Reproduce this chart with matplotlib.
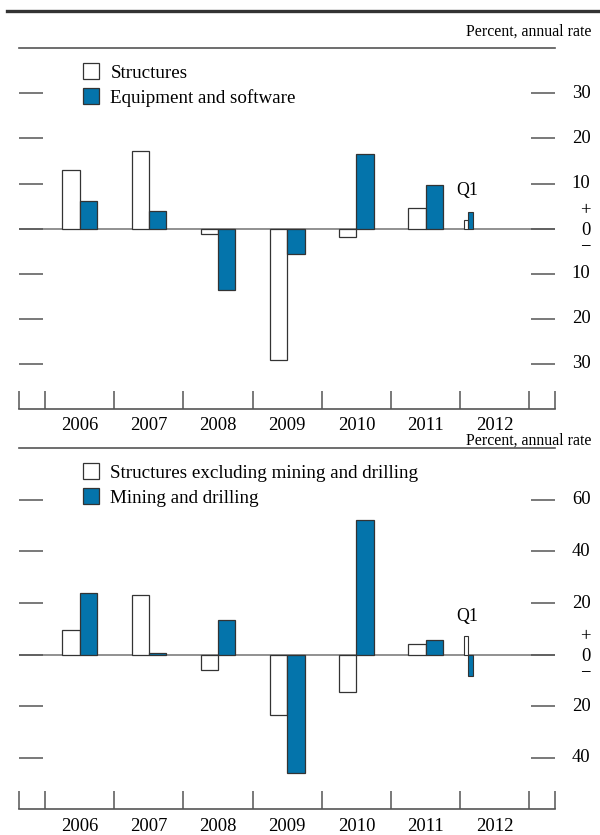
import matplotlib
matplotlib.use('Agg')
import matplotlib.pyplot as plt
from matplotlib.patches import Patch
from matplotlib.lines import Line2D

# ---------------- data ----------------
years = ['2006', '2007', '2008', '2009', '2010', '2011', '2012']
annual_years = ['2006', '2007', '2008', '2009', '2010', '2011']

structures = [13.0, 17.2, -1.2, -29.1, -1.8, 4.5]
equipment = [6.1, 4.0, -13.6, -5.7, 16.6, 9.6]
structures_q1 = 1.9
equipment_q1 = 3.6

structures_ex = [9.6, 23.3, -5.8, -23.4, -14.6, 4.1]
mining = [24.0, 0.6, 13.5, -45.8, 52.2, 5.8]
structures_ex_q1 = 7.1
mining_q1 = -8.4

top_yticks = [30, 20, 10, 0, -10, -20, -30]
bottom_yticks = [60, 40, 20, 0, -20, -40]

top_labels = ['Structures', 'Equipment and software']
bottom_labels = ['Structures excluding mining and drilling', 'Mining and drilling']
unit_label = 'Percent, annual rate'

# ---------------- style ----------------
W, H, DPI = 600, 835, 100
BLUE = '#0474AB'
EDGE = '#333333'
GRAY = '#555555'
FONT = 'Liberation Serif'
FS = 13.4
FS_LEG = 13.7
plt.rcParams['font.family'] = [FONT, 'DejaVu Serif']

fig = plt.figure(figsize=(W / DPI, H / DPI), dpi=DPI)


def fxp(px):
    return px / W


def fyp(py):
    return 1 - py / H


X0, X1 = 19.3, 555.0
SLOT = 69.2
C0 = 79.6
xlim = ((X0 - C0) / SLOT, (X1 - C0) / SLOT)
bar_w = 0.25
q1_x = (468.3 - C0) / SLOT
q1_w = 0.062
LABEL_RIGHT = (590.5 - X0) / (X1 - X0)   # axes fraction of right-aligned y labels


def panel(top_px, bot_px, ylim, yticks, s_vals, b_vals, s_q1, b_q1, labels, q1_y):
    ax = fig.add_axes([fxp(X0), fyp(bot_px), fxp(X1 - X0), (bot_px - top_px) / H])
    ax.set_xlim(*xlim)
    ax.set_ylim(*ylim)
    idx = list(range(len(annual_years)))
    ax.axhline(0, color='#888888', lw=1.3, zorder=1)
    ax.bar([i - bar_w / 2 for i in idx], s_vals, bar_w, color='white',
           edgecolor=EDGE, linewidth=0.9, zorder=3)
    ax.bar([i + bar_w / 2 for i in idx], b_vals, bar_w, color=BLUE,
           edgecolor=EDGE, linewidth=0.9, zorder=3)
    ax.bar([q1_x - q1_w / 2], [s_q1], q1_w, color='white', edgecolor=EDGE,
           linewidth=0.8, zorder=3)
    ax.bar([q1_x + q1_w / 2], [b_q1], q1_w, color=BLUE, edgecolor=EDGE,
           linewidth=0.8, zorder=3)
    ax.text(q1_x - 0.02, q1_y, 'Q1', ha='center', va='center', fontsize=12.8)

    # spines
    for s in ['left', 'right']:
        ax.spines[s].set_visible(False)
    for s in ['top', 'bottom']:
        ax.spines[s].set_color(GRAY)
        ax.spines[s].set_linewidth(1.2)

    # y ticks (marks on both sides, labels on the right)
    ax.set_yticks(yticks)
    ax.tick_params(axis='y', left=True, right=True, labelleft=False,
                   labelright=False, direction='in', length=17.3, width=1.1,
                   color=GRAY)
    ytr = ax.get_yaxis_transform()
    for v in yticks:
        if v == 0:
            continue
        ax.text(LABEL_RIGHT, v, str(abs(v)), transform=ytr, ha='right',
                va='center', fontsize=FS, clip_on=False)
    ax.annotate('+', xy=(LABEL_RIGHT, 0), xycoords=ytr, xytext=(0, 9.6),
                textcoords='offset points', ha='right', va='baseline',
                fontsize=FS, annotation_clip=False)
    ax.annotate('0\n\u2212', xy=(LABEL_RIGHT, 0), xycoords=ytr, xytext=(0, 4.7),
                textcoords='offset points', ha='right', va='top',
                multialignment='right', linespacing=1.0,
                fontsize=FS, annotation_clip=False)

    # x ticks: slot boundaries + axis ends
    bounds = [xlim[0]] + [i - 0.5 for i in range(len(years) + 1)] + [xlim[1]]
    ax.set_xticks(bounds)
    ax.set_xticklabels([''] * len(bounds))
    ax.set_xticks(list(range(len(years))), minor=True)
    ax.set_xticklabels(years, minor=True)
    ax.tick_params(axis='x', which='major', direction='in', length=13,
                   width=1.1, color=GRAY, bottom=True, top=False)
    ax.tick_params(axis='x', which='minor', length=0, pad=6.0, labelsize=FS)

    handles = [Patch(facecolor='white', edgecolor=EDGE, linewidth=0.9, label=labels[0]),
               Patch(facecolor=BLUE, edgecolor=EDGE, linewidth=0.9, label=labels[1])]
    ax.legend(handles=handles, loc='upper left',
              bbox_to_anchor=(fxp(82.7), fyp(top_px + 15.0)),
              bbox_transform=fig.transFigure, frameon=False, fontsize=FS_LEG,
              handlelength=0.87, handleheight=0.87, handletextpad=0.58,
              labelspacing=0.36, borderpad=0, borderaxespad=0)
    return ax


panel(48.3, 409.0, (-40, 40), top_yticks, structures, equipment,
      structures_q1, equipment_q1, top_labels, 8.4)
panel(448.3, 809.3, (-60, 80), bottom_yticks, structures_ex, mining,
      structures_ex_q1, mining_q1, bottom_labels, 14.9)

fig.text(fxp(591), fyp(32), unit_label, ha='right', va='center', fontsize=11.4)
fig.text(fxp(591), fyp(441), unit_label, ha='right', va='center', fontsize=11.4)

fig.add_artist(Line2D([fxp(7), fxp(600)], [fyp(10.5), fyp(10.5)],
                      color='#333333', lw=2.4, transform=fig.transFigure))

fig.savefig('out.png', dpi=DPI)
